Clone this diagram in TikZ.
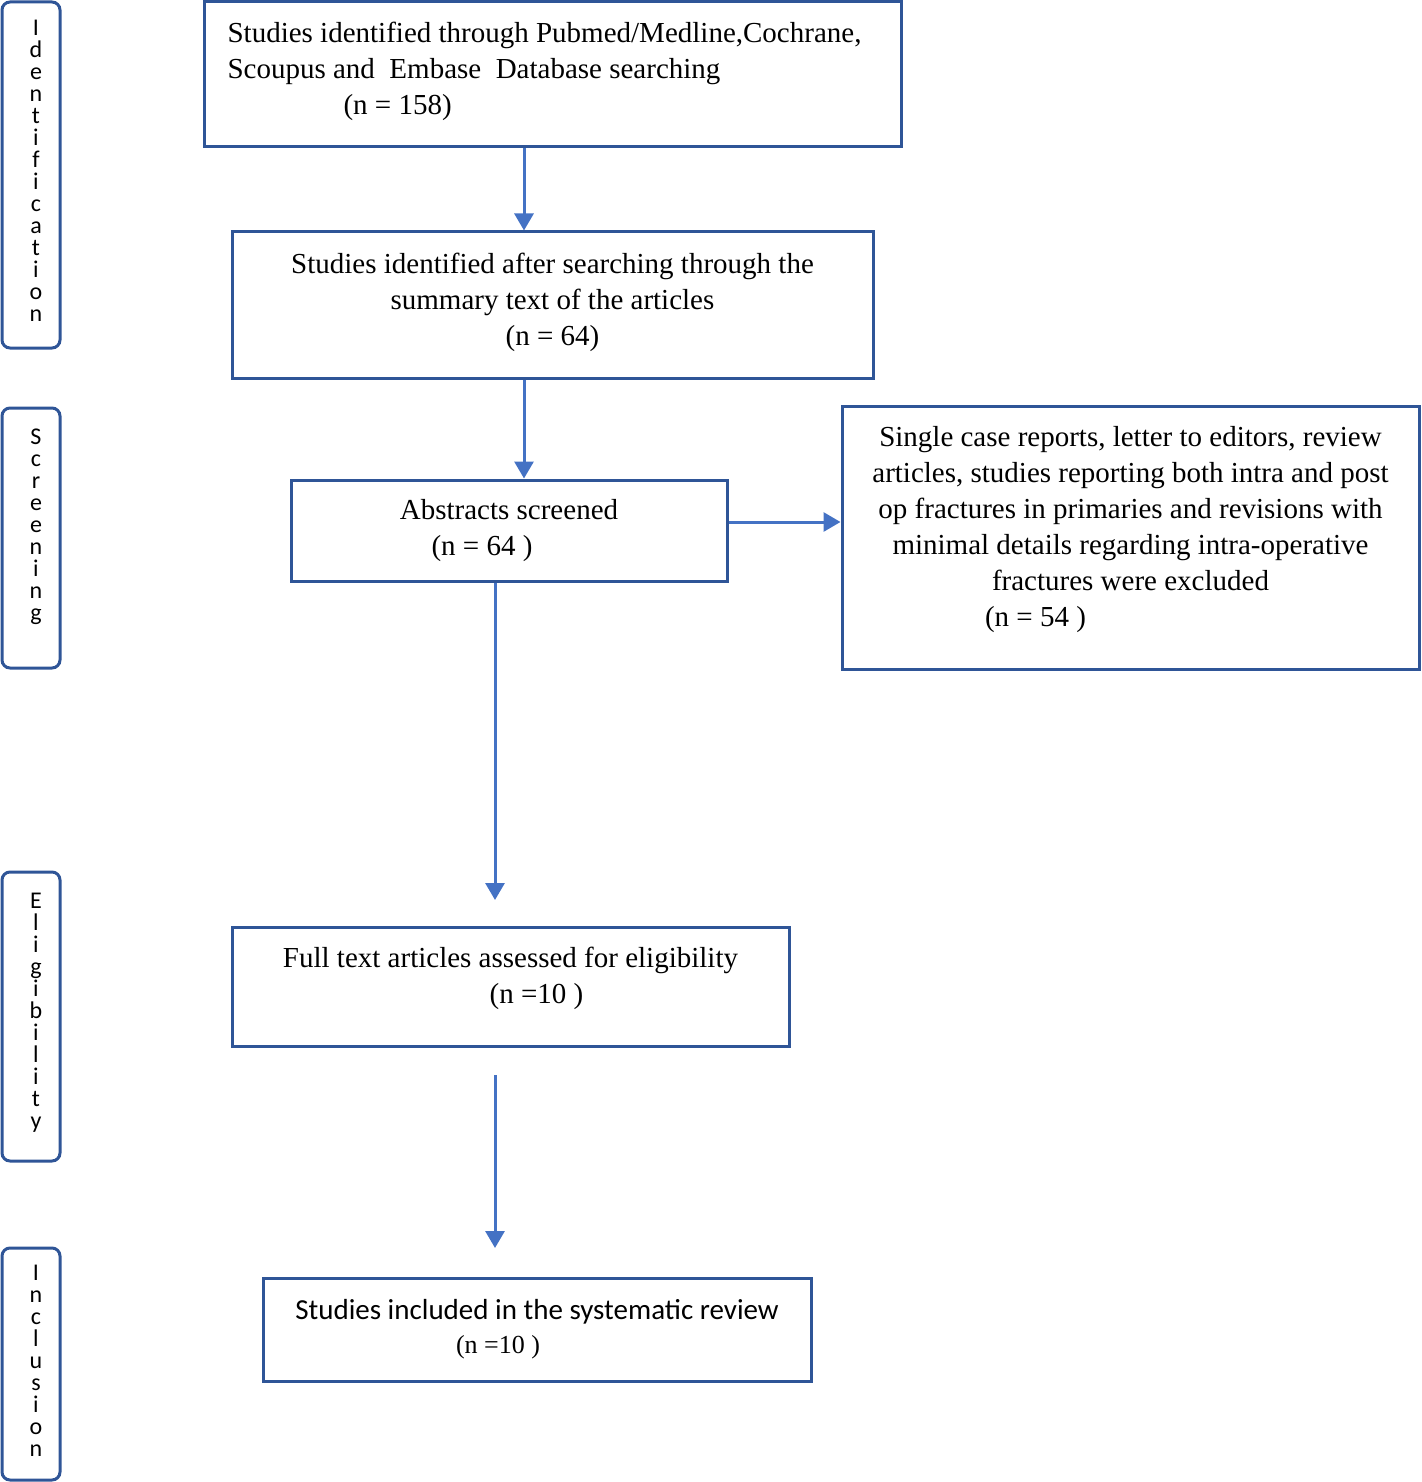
\documentclass[tikz,border=0pt]{standalone}
\usepackage{fontspec}
\setmainfont{Liberation Serif}
\newfontfamily\calfont{Carlito}
\usetikzlibrary{arrows.meta}
\definecolor{boxblue}{HTML}{2F5597}
\definecolor{arrowblue}{HTML}{4472C4}
\newcommand{\lowstrut}[1]{\rule[-#1]{0pt}{0pt}}
\begin{document}
\begin{tikzpicture}[x=0.5pt,y=-0.5pt,
    flowbox/.style={draw=boxblue, line width=1.5pt, align=center, inner sep=0pt,
      font=\fontsize{14.5}{18}\selectfont},
    phasebox/.style={draw=boxblue, line width=1.5pt, rounded corners=4pt,
      minimum width=29pt, inner sep=0pt},
    phasetext/.style={align=center, inner sep=0pt, font=\calfont\fontsize{12}{11}\selectfont},
    flowarrow/.style={draw=arrowblue, line width=1.5pt, -{Triangle[width=9.5pt,length=8.5pt]}}]
    \useasboundingbox (0,0) rectangle (1421,1482);

    % phases on the left
    \node[phasebox, minimum height=173pt] (identify) at (31,175) {};
    \node[phasebox, minimum height=130pt] (screen) at (31,538) {};
    \node[phasebox, minimum height=144.5pt] (eligible) at (31,1016.5) {};
    \node[phasebox, minimum height=116pt] (include) at (31,1364) {};

    \node[phasetext] (identify text) at ([xshift=2.5pt,yshift=2pt]identify.center)
      {I\\d\\e\\n\\t\\i\\f\\i\\c\\a\\t\\i\\o\\n};
    \node[phasetext] (screen text) at ([xshift=2.5pt,yshift=5.5pt]screen.center)
      {S\\c\\r\\e\\e\\n\\i\\n\\g};
    \node[phasetext] (eligible text) at ([xshift=2.5pt,yshift=2pt]eligible.center)
      {E\\l\\i\\g\\i\\b\\i\\l\\i\\t\\y};
    \node[phasetext] (include text) at ([xshift=2.5pt,yshift=1.5pt]include.center)
      {I\\n\\c\\l\\u\\s\\i\\o\\n};

    % boxes
    \node[flowbox, align=left, minimum width=348.5pt, minimum height=72.5pt] (searched) at (552.5,74.5)
      {Studies identified through Pubmed/Medline,Cochrane,\hspace*{8pt}\\
       Scoupus and~ Embase~ Database searching\\
       \hspace*{58pt}(n = 158)\lowstrut{6pt}};
    \node[flowbox, minimum width=320.5pt, minimum height=73pt] (summary) at (552.5,305)
      {Studies identified after searching through the\\
       summary text of the articles\\
       (n = 64)\lowstrut{6pt}};
    \node[flowbox, minimum width=218pt, minimum height=50.5pt] (abstracts) at (509,530.5)
      {Abstracts screened\\
       (n = 64 )\hspace*{27pt}};
    \node[flowbox, minimum width=288.5pt, minimum height=131.5pt] (excluded) at (1130.5,537.5)
      {Single case reports, letter to editors, review\\
       articles, studies reporting both intra and post\\
       op fractures in primaries and revisions with\\
       minimal details regarding intra-operative\\
       fractures were excluded\\
       (n = 54 )\hspace*{95pt}\lowstrut{11pt}};
    \node[flowbox, minimum width=278.5pt, minimum height=59.5pt] (fulltext) at (510.5,986.5)
      {Full text articles assessed for eligibility\\
       \hspace*{26pt}(n =10 )\lowstrut{11pt}};
    \node[flowbox, minimum width=274pt, minimum height=51.5pt, font=\fontsize{14.5}{17}\selectfont] (review) at (537,1329.5)
      {{\calfont Studies included in the systematic review}\\
       {\fontsize{13}{17}\selectfont (n =10 )}\hspace*{39pt}};

    % arrows
    \coordinate (leftcol) at (495,0);
    \coordinate (rightcol) at (524,0);
    \coordinate (siderow) at (0,522);
    \coordinate (stop1) at (495,900);
    \coordinate (start2) at (495,1075);
    \coordinate (stop2) at (495,1248);

    \draw[flowarrow] (searched.south -| rightcol) -- (summary.north -| rightcol);
    \draw[flowarrow] (summary.south -| rightcol) -- (abstracts.north -| rightcol);
    \draw[flowarrow] (abstracts.east |- siderow) -- (excluded.west |- siderow);
    \draw[flowarrow] (abstracts.south -| leftcol) -- (stop1);
    \draw[flowarrow] (start2) -- (stop2);
\end{tikzpicture}
\end{document}
